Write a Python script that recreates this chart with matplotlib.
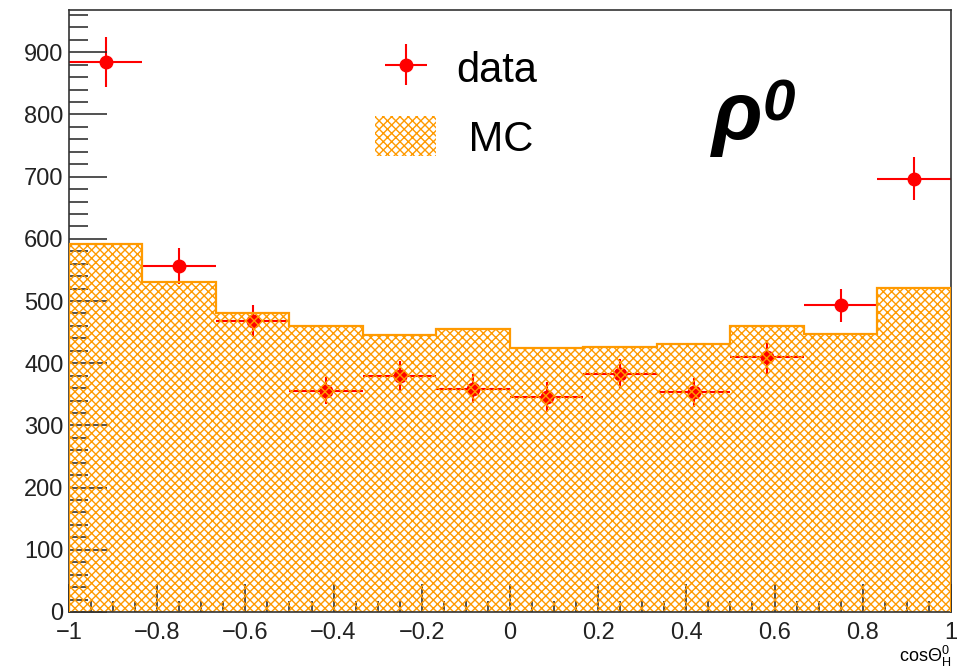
import numpy as np
import matplotlib
matplotlib.use('Agg')
import matplotlib.pyplot as plt
from matplotlib.patches import Patch
from matplotlib.ticker import MultipleLocator

plt.rcParams['font.family'] = ['Liberation Sans', 'DejaVu Sans']
plt.rcParams['mathtext.fontset'] = 'custom'
plt.rcParams['mathtext.rm'] = 'Liberation Sans'
plt.rcParams['mathtext.it'] = 'Liberation Sans:italic'
plt.rcParams['hatch.linewidth'] = 1.0

# binning: 12 bins in cos(theta) from -1 to 1
bin_edges = np.linspace(-1, 1, 13)
bin_centers = 0.5 * (bin_edges[:-1] + bin_edges[1:])
bin_half = 0.5 * (bin_edges[1] - bin_edges[0])

mc_counts = [592, 530, 481, 460, 445, 455, 424, 426, 431, 460, 447, 521]
data_counts = [884, 556, 468, 356, 380, 359, 346, 382, 353, 410, 493, 697]
data_err = [40, 29, 26, 22, 24, 23, 24, 24, 24, 27, 27, 34]

xtick_vals = [-1, -0.8, -0.6, -0.4, -0.2, 0, 0.2, 0.4, 0.6, 0.8, 1]
xtick_labels = ['\u22121', '\u22120.8', '\u22120.6', '\u22120.4', '\u22120.2',
                '0', '0.2', '0.4', '0.6', '0.8', '1']
ytick_vals = [0, 100, 200, 300, 400, 500, 600, 700, 800, 900]

orange = '#ff9a00'
red = '#ff0000'

fig = plt.figure(figsize=(9.66, 6.70), dpi=100)
ax = fig.add_axes([0.0714, 0.0866, 0.913, 0.8985])

# data drawn underneath the hatch, like the ROOT canvas
ax.errorbar(bin_centers, data_counts, yerr=data_err, xerr=bin_half, fmt='o',
            color=red, ecolor=red, markersize=9, elinewidth=1.5, capsize=0,
            zorder=1)

ax.bar(bin_centers, mc_counts, width=2 * bin_half, facecolor='none',
       edgecolor=orange, linewidth=0, hatch='xxxx', zorder=2)
ax.stairs(mc_counts, bin_edges, color=orange, linewidth=1.6, zorder=3)

ax.set_xlim(-1, 1)
ax.set_ylim(0, 968)
ax.set_xticks(xtick_vals)
ax.set_xticklabels(xtick_labels)
ax.set_yticks(ytick_vals)
ax.xaxis.set_minor_locator(MultipleLocator(0.05))
ax.yaxis.set_minor_locator(MultipleLocator(20))
ax.tick_params(axis='both', which='both', direction='in', labelsize=17,
               colors='#222222')
ax.tick_params(axis='x', which='major', length=20, width=1.1, pad=7)
ax.tick_params(axis='x', which='minor', length=8, width=1.1)
ax.tick_params(axis='y', which='major', length=27, width=1.1, pad=4)
ax.tick_params(axis='y', which='minor', length=14, width=1.1)
for sp in ax.spines.values():
    sp.set_linewidth(1.2)
    sp.set_color('#333333')

ax.set_xlabel(r'cos$\mathrm{\Theta}^{0}_{\mathrm{H}}$', loc='right', fontsize=13,
              labelpad=0)

handles = [
    ax.errorbar([], [], yerr=[], xerr=[], fmt='o', color=red, markersize=9,
                elinewidth=1.5, capsize=0),
    Patch(facecolor='none', edgecolor=orange, hatch='xxxx', linewidth=0),
]
ax.legend(handles, ['data', ' MC'], loc='upper left',
          bbox_to_anchor=(0.305, 1.0), frameon=False, fontsize=30,
          handlelength=1.45, handleheight=1.1, labelspacing=0.62,
          handletextpad=0.5)

ax.text(0.729, 0.82, '\u03c1', transform=ax.transAxes, fontsize=60,
        fontweight='bold', style='italic', ha='left', va='center')
ax.text(0.786, 0.842, '0', transform=ax.transAxes, fontsize=42,
        fontweight='bold', style='italic', ha='left', va='center')

fig.savefig('out.png', dpi=100)
